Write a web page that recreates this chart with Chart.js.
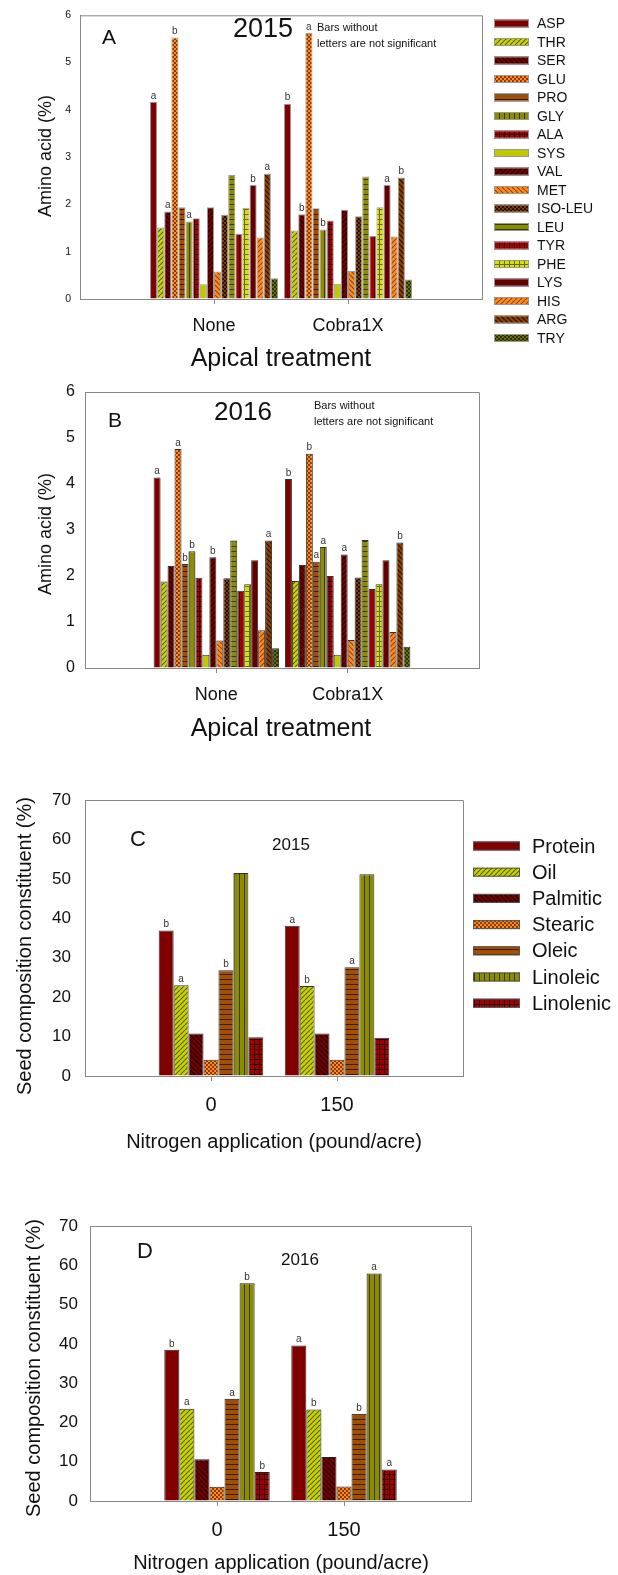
<!DOCTYPE html>
<html>
<head>
<meta charset="utf-8">
<script src="https://cdn.jsdelivr.net/npm/chart.js@4.4.1/dist/chart.umd.min.js"></script>
<style>
  body { margin: 0; background: #fff; width: 618px; height: 1575px; position: relative; overflow: hidden; }
  canvas { position: absolute; left: 0; }
</style>
</head>
<body>
<canvas id="chartA" width="618" height="372" style="top:0px"></canvas>
<canvas id="chartB" width="618" height="378" style="top:372px"></canvas>
<canvas id="chartC" width="618" height="400" style="top:770px"></canvas>
<canvas id="chartD" width="618" height="375" style="top:1200px"></canvas>
<script>
// ---- data ----
const aminoAcids = ["ASP", "THR", "SER", "GLU", "PRO", "GLY", "ALA", "SYS", "VAL",
  "MET", "ISO-LEU", "LEU", "TYR", "PHE", "LYS", "HIS", "ARG", "TRY"];
const treatments = ["None", "Cobra1X"];

const amino2015None  = [4.17, 1.51, 1.85, 5.53, 1.94, 1.64, 1.71, 0.31, 1.94, 0.58, 1.78, 2.62, 1.38, 1.93, 2.41, 1.30, 2.65, 0.44];
const amino2015Cobra = [4.13, 1.45, 1.79, 5.63, 1.92, 1.47, 1.66, 0.32, 1.89, 0.59, 1.75, 2.59, 1.33, 1.94, 2.41, 1.32, 2.57, 0.41];
const letters2015None  = ["a", "", "a", "b", "", "a", "", "", "", "", "", "", "", "", "b", "", "a", ""];
const letters2015Cobra = ["b", "", "b", "a", "", "b", "", "", "", "", "", "", "", "", "a", "", "b", ""];

const amino2016None  = [4.14, 1.88, 2.22, 4.76, 2.26, 2.54, 1.96, 0.29, 2.41, 0.60, 1.95, 2.77, 1.68, 1.82, 2.34, 0.82, 2.77, 0.43];
const amino2016Cobra = [4.11, 1.89, 2.24, 4.66, 2.31, 2.63, 2.00, 0.29, 2.47, 0.61, 1.97, 2.78, 1.72, 1.82, 2.34, 0.78, 2.73, 0.46];
const letters2016None  = ["a", "", "", "a", "b", "b", "", "", "b", "", "", "", "", "", "", "", "a", ""];
const letters2016Cobra = ["b", "", "", "b", "a", "a", "", "", "a", "", "", "", "", "", "", "", "b", ""];

const constituents = ["Protein", "Oil", "Palmitic", "Stearic", "Oleic", "Linoleic", "Linolenic"];
const nitrogenRates = ["0", "150"];

const seed2015N0   = [36.9, 23.0, 10.8, 4.1, 26.8, 51.5, 9.8];
const seed2015N150 = [38.1, 22.8, 10.8, 4.1, 27.6, 51.2, 9.7];
const seedLetters2015N0   = ["b", "a", "", "", "b", "", ""];
const seedLetters2015N150 = ["a", "b", "", "", "a", "", ""];

const seed2016N0   = [38.5, 23.5, 10.6, 3.6, 26.0, 55.4, 7.4];
const seed2016N150 = [39.6, 23.3, 11.2, 3.7, 22.2, 57.9, 8.0];
const seedLetters2016N0   = ["b", "a", "", "", "a", "b", "b"];
const seedLetters2016N150 = ["a", "b", "", "", "b", "a", "a"];

// ---- fills (hatch patterns like SigmaPlot) ----
const FONT = "'Liberation Sans', Arial, sans-serif";

function maakVulling(bg, fg, soort) {
  if (!soort) return bg;
  const s = soort === "check" ? 4 : 5;
  const c = document.createElement("canvas");
  c.width = s;
  c.height = s;
  const g = c.getContext("2d");
  g.fillStyle = bg;
  g.fillRect(0, 0, s, s);
  g.fillStyle = fg;
  g.strokeStyle = fg;
  g.lineWidth = 1.2;
  if (soort === "fwd" || soort === "back") {
    g.beginPath();
    for (let k = -s; k <= s; k += s) {
      if (soort === "fwd") { g.moveTo(k, s); g.lineTo(k + s, 0); }
      else { g.moveTo(k, 0); g.lineTo(k + s, s); }
    }
    g.stroke();
  } else if (soort === "horiz") {
    g.fillRect(0, s - 1, s, 1);
  } else if (soort === "vert") {
    g.fillRect(s - 1, 0, 1, s);
  } else if (soort === "grid") {
    g.fillRect(0, s - 1, s, 1);
    g.fillRect(s - 1, 0, 1, s);
  } else if (soort === "check") {
    g.fillRect(0, 0, 2, 2);
    g.fillRect(2, 2, 2, 2);
  }
  return g.createPattern(c, "repeat");
}

const aminoFills = {
  "ASP": maakVulling("#800000"),
  "THR": maakVulling("#c8d400", "#5c6200", "fwd"),
  "SER": maakVulling("#700000", "#220000", "back"),
  "GLU": maakVulling("#ff8c1a", "#8a3a00", "check"),
  "PRO": maakVulling("#a05000", "#3a1a00", "horiz"),
  "GLY": maakVulling("#8c8c00", "#3a3a00", "vert"),
  "ALA": maakVulling("#a00000", "#300000", "grid"),
  "SYS": maakVulling("#c0c800"),
  "VAL": maakVulling("#700000", "#220000", "fwd"),
  "MET": maakVulling("#ff8c1a", "#a04000", "back"),
  "ISO-LEU": maakVulling("#7a3c00", "#2a1000", "check"),
  "LEU": maakVulling("#8c8c00", "#3a3a00", "horiz"),
  "TYR": maakVulling("#a00000", "#300000", "vert"),
  "PHE": maakVulling("#d8e000", "#6a6a00", "grid"),
  "LYS": maakVulling("#650000"),
  "HIS": maakVulling("#ff8c1a", "#a04000", "fwd"),
  "ARG": maakVulling("#8a4000", "#2a1000", "back"),
  "TRY": maakVulling("#6a7000", "#2a3000", "check"),
};

const seedFills = {
  "Protein": aminoFills["ASP"],
  "Oil": aminoFills["THR"],
  "Palmitic": aminoFills["SER"],
  "Stearic": aminoFills["GLU"],
  "Oleic": aminoFills["PRO"],
  "Linoleic": aminoFills["GLY"],
  "Linolenic": aminoFills["ALA"],
};

function tekst(ctx, str, x, y, size, align = "center", rot = 0) {
  ctx.save();
  ctx.font = `${size}px ${FONT}`;
  ctx.fillStyle = "#111";
  ctx.textAlign = align;
  ctx.textBaseline = "middle";
  ctx.translate(x, y);
  if (rot) ctx.rotate(rot);
  ctx.fillText(str, 0, 0);
  ctx.restore();
}

function tekenPaneel(id, p) {
  const canvas = document.getElementById(id);
  const W = canvas.width;
  const H = canvas.height;
  const box = p.box;

  const datasets = p.names.map((name, i) => ({
    label: name,
    data: [null, p.values[0][i], p.values[1][i], null],
    backgroundColor: p.fills[name],
    borderColor: p.barBorder,
    borderWidth: 1,
  }));

  const deco = {
    id: "deco",
    afterDatasetsDraw(chart) {
      const ctx = chart.ctx;
      ctx.save();
      ctx.font = `${p.letterSize}px ${FONT}`;
      ctx.fillStyle = "#333";
      ctx.textAlign = "center";
      ctx.textBaseline = "bottom";
      p.names.forEach((name, i) => {
        const meta = chart.getDatasetMeta(i);
        [1, 2].forEach((g) => {
          const letter = p.letters[g - 1][i];
          const el = meta.data[g];
          if (letter && el) ctx.fillText(letter, el.x, el.y - 1);
        });
      });
      ctx.restore();
    },
    afterDraw(chart) {
      const ctx = chart.ctx;
      const a = chart.chartArea;
      // frame top and right
      ctx.save();
      ctx.strokeStyle = "#888";
      ctx.lineWidth = 1;
      ctx.beginPath();
      ctx.moveTo(a.left, a.top + 0.5);
      ctx.lineTo(a.right + 0.5, a.top + 0.5);
      ctx.lineTo(a.right + 0.5, a.bottom);
      ctx.stroke();
      ctx.restore();

      tekst(ctx, p.panel, p.panelPos[0], p.panelPos[1], p.panelSize);
      tekst(ctx, p.year, p.yearPos[0], p.yearPos[1], p.yearSize);
      if (p.note) {
        tekst(ctx, "Bars without", p.note[0], p.note[1], 11, "left");
        tekst(ctx, "letters are not significant", p.note[0], p.note[1] + 15.5, 11, "left");
      }
      tekst(ctx, p.yTitle, p.yTitlePos[0], p.yTitlePos[1], p.yTitleSize, "center", -Math.PI / 2);
      tekst(ctx, p.xTitle, p.xTitlePos[0], p.xTitlePos[1], p.xTitleSize);

      if (p.legend) {
        const L = p.legend;
        p.names.forEach((name, i) => {
          const y = L.y0 + i * L.dy;
          ctx.save();
          ctx.fillStyle = p.fills[name];
          ctx.fillRect(L.x, y - L.h / 2, L.w, L.h);
          ctx.strokeStyle = L.border;
          ctx.lineWidth = 1;
          ctx.strokeRect(L.x + 0.5, y - L.h / 2 + 0.5, L.w - 1, L.h - 1);
          ctx.restore();
          tekst(ctx, name, L.tx, y + 1, L.size, "left");
        });
      }
    },
  };

  return new Chart(canvas, {
    type: "bar",
    data: { labels: ["", ...p.groups, ""], datasets },
    options: {
      responsive: false,
      animation: false,
      events: [],
      layout: {
        padding: { left: box.l - 40, right: W - box.r, top: box.t, bottom: H - box.b - 50 },
      },
      plugins: { legend: { display: false }, tooltip: { enabled: false } },
      datasets: { bar: { categoryPercentage: p.catPct, barPercentage: 1 } },
      scales: {
        x: {
          offset: false,
          grid: {
            offset: false,
            drawOnChartArea: false,
            tickLength: 5,
            color: (c) => (c.index === 0 || c.index === 3 ? "rgba(0,0,0,0)" : "#888"),
          },
          border: { color: "#888" },
          ticks: {
            font: { size: p.xFont, family: FONT },
            color: "#111",
            padding: p.xPad,
            maxRotation: 0,
            autoSkip: false,
          },
          afterFit: (s) => { s.height = 50; },
        },
        y: {
          min: 0,
          max: p.yMax,
          ticks: { stepSize: p.yStep, font: { size: p.yFont, family: FONT }, color: "#111", padding: p.yPad },
          grid: { drawOnChartArea: false, drawTicks: false },
          border: { color: "#888" },
          afterFit: (s) => { s.width = 40; },
        },
      },
    },
    plugins: [deco],
  });
}

// Panel A - amino acids 2015
tekenPaneel("chartA", {
  names: aminoAcids, fills: aminoFills, groups: treatments,
  values: [amino2015None, amino2015Cobra], letters: [letters2015None, letters2015Cobra],
  box: { l: 80, r: 482, t: 14, b: 299 }, catPct: 0.955, barBorder: "#9a9a9a",
  yMax: 6, yStep: 1, yFont: 10.5, yPad: 9, xFont: 18, xPad: 11, letterSize: 10,
  panel: "A", panelPos: [109, 38], panelSize: 21,
  year: "2015", yearPos: [263, 30], yearSize: 27, note: [317, 28],
  yTitle: "Amino acid (%)", yTitlePos: [46, 156], yTitleSize: 18,
  xTitle: "Apical treatment", xTitlePos: [281, 359], xTitleSize: 25,
  legend: { x: 494, y0: 23.5, dy: 18.5, w: 35, h: 8, tx: 537, size: 14, border: "#999" },
});

// Panel B - amino acids 2016
tekenPaneel("chartB", {
  names: aminoAcids, fills: aminoFills, groups: treatments,
  values: [amino2016None, amino2016Cobra], letters: [letters2016None, letters2016Cobra],
  box: { l: 85, r: 479, t: 20, b: 296 }, catPct: 0.955, barBorder: "#333",
  yMax: 6, yStep: 1, yFont: 16, yPad: 10, xFont: 18, xPad: 11, letterSize: 10,
  panel: "B", panelPos: [115, 49], panelSize: 21,
  year: "2016", yearPos: [243, 41], yearSize: 26, note: [314, 34],
  yTitle: "Amino acid (%)", yTitlePos: [46, 162], yTitleSize: 18,
  xTitle: "Apical treatment", xTitlePos: [281, 357], xTitleSize: 25,
});

// Panel C - seed composition 2015
tekenPaneel("chartC", {
  names: constituents, fills: seedFills, groups: nitrogenRates,
  values: [seed2015N0, seed2015N150], letters: [seedLetters2015N0, seedLetters2015N150],
  box: { l: 85, r: 463, t: 30, b: 306 }, catPct: 0.83, barBorder: "#333",
  yMax: 70, yStep: 10, yFont: 17, yPad: 14, xFont: 20, xPad: 12, letterSize: 10,
  panel: "C", panelPos: [138, 70], panelSize: 22,
  year: "2015", yearPos: [291, 75], yearSize: 17,
  yTitle: "Seed composition constituent (%)", yTitlePos: [25, 176], yTitleSize: 20,
  xTitle: "Nitrogen application (pound/acre)", xTitlePos: [274, 372], xTitleSize: 20,
  legend: { x: 473, y0: 76, dy: 26.2, w: 47, h: 9, tx: 532, size: 20, border: "#555" },
});

// Panel D - seed composition 2016
tekenPaneel("chartD", {
  names: constituents, fills: seedFills, groups: nitrogenRates,
  values: [seed2016N0, seed2016N150], letters: [seedLetters2016N0, seedLetters2016N150],
  box: { l: 90, r: 471, t: 26, b: 301 }, catPct: 0.83, barBorder: "#222",
  yMax: 70, yStep: 10, yFont: 17, yPad: 12, xFont: 20, xPad: 12, letterSize: 10,
  panel: "D", panelPos: [145, 52], panelSize: 22,
  year: "2016", yearPos: [300, 60], yearSize: 17,
  yTitle: "Seed composition constituent (%)", yTitlePos: [34, 168], yTitleSize: 20,
  xTitle: "Nitrogen application (pound/acre)", xTitlePos: [281, 363], xTitleSize: 20,
});
</script>
</body>
</html>
